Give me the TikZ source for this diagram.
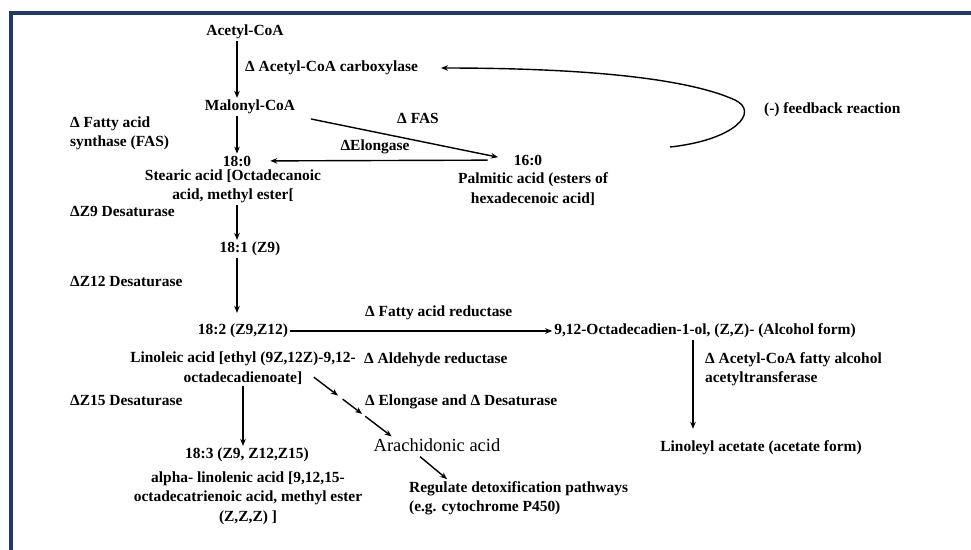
\documentclass[tikz,border=0pt]{standalone}
\usepackage{fontspec}
\setmainfont{Liberation Serif}
\usepackage{xcolor}
\usetikzlibrary{arrows.meta,positioning,calc}
\definecolor{framenavy}{HTML}{1F3A68}

\begin{document}
\begin{tikzpicture}[x=0.02cm,y=-0.02cm,
    txt/.style={inner sep=1pt,font=\fontsize{8.8}{11}\selectfont\bfseries,align=center},
    enz/.style={txt,anchor=west,align=left},
    pw/.style={-{Stealth[length=4pt,width=3.2pt]},line width=0.8pt}]
  \useasboundingbox (0,0) rectangle (971,549);
  % frame
  \draw[framenavy,line width=1.8pt] (11,600) -- (11,13) -- (1000,13);

  % metabolites
  \node[txt] (acetyl) at (245,32) {Acetyl-CoA};
  \node[txt] (malonyl) at (250,107) {Malonyl-CoA};
  \node[txt] (c180) at (237,161) {18:0};
  \node[txt] (stearic) at (233,186) {Stearic acid [Octadecanoic\\acid, methyl ester[};
  \node[txt] (c160) at (528,160) {16:0};
  \node[txt] (palmitic) at (533,189) {Palmitic acid (esters of\\hexadecenoic acid]};
  \node[txt] (c181) at (250,249) {18:1 (Z9)};
  \node[txt] (c182) at (243,331) {18:2 (Z9,Z12)};
  \node[txt] (linoleic) at (243,368) {Linoleic acid [ethyl (9Z,12Z)-9,12-\\octadecadienoate]};
  \node[txt] (alcohol) at (705,331) {9,12-Octadecadien-1-ol, (Z,Z)- (Alcohol form)};
  \node[txt] (acetate) at (761,448) {Linoleyl acetate (acetate form)};
  \node[txt] (c183) at (247,455) {18:3 (Z9, Z12,Z15)};
  \node[txt] (linolenic) at (248,498) {alpha- linolenic acid [9,12,15-\\octadecatrienoic acid, methyl ester\\(Z,Z,Z) ]};
  \node[inner sep=1pt,font=\fontsize{10.5}{12}\selectfont] (arach) at (437,445) {Arachidonic acid};
  \node[enz] (regulate) at (407,498) {Regulate detoxification pathways\\(e.g. cytochrome P450)};

  % enzymes
  \node[enz] (lAcc) at (243,68) {Δ Acetyl-CoA carboxylase};
  \node[enz] (lFasyn) at (68,133) {Δ Fatty acid\\synthase (FAS)};
  \node[txt] (lFAS) at (418,118) {Δ FAS};
  \node[txt] (lElo) at (375,147) {ΔElongase};
  \node[enz] (lZ9) at (68,211) {ΔZ9 Desaturase};
  \node[enz] (lZ12) at (68,281) {ΔZ12 Desaturase};
  \node[enz] (lZ15) at (68,400) {ΔZ15 Desaturase};
  \node[enz] (lRed) at (363,313) {Δ Fatty acid reductase};
  \node[enz] (lAld) at (362,360) {Δ Aldehyde reductase};
  \node[enz] (lEloDes) at (363,402) {Δ Elongase and Δ Desaturase};
  \node[enz] (lAcT) at (703,369) {Δ Acetyl-CoA fatty alcohol\\acetyltransferase};
  \node[enz] (lFeed) at (762,110) {(-) feedback reaction};

  % reactions
  \draw[pw] (acetyl.south -| c180) -- (malonyl.north -| c180);
  \draw[pw] (malonyl.south -| c180) -- (c180.north);
  \draw[pw,shorten <=0.28cm,shorten >=0.28cm] (malonyl.south east) -- (c160.west);
  \draw[pw,shorten <=0.48cm,shorten >=0.34cm] (c160) -- (c180);
  \draw[pw] (stearic.south -| c180) -- (c181.north -| c180);
  \draw[pw,shorten >=0.18cm] (c181.south -| c180) -- (c182.north -| c180);
  \draw[pw] (c182) -- (alcohol);
  \draw[pw] (linoleic.south) -- (linoleic.south |- c183.north);
  \draw[pw,shorten >=0.2cm] ([xshift=-0.24cm]alcohol.south) -- ([xshift=-0.24cm]alcohol.south |- acetate.north);
  \coordinate (dA) at ($(linoleic.south east)+(-44,-9)$);
  \coordinate (dB) at ($(arach.north west)+(20,0)$);
  \foreach \a/\b in {0/0.31,0.37/0.62,0.66/1}
    \draw[pw] ($(dA)!\a!(dB)$) -- ($(dA)!\b!(dB)$);
  \draw[pw] ($(arach.south)+(-17,3)$) -- ($(regulate.north west)+(40,0)$);

  % feedback
  \coordinate (fbstart) at (670,147);
  \draw[pw] (fbstart) .. controls (735,140) and (760,112) .. (735,100)
    .. controls (680,75) and (560,68) .. ($(lAcc.east)+(21,0)$);
\end{tikzpicture}
\end{document}
